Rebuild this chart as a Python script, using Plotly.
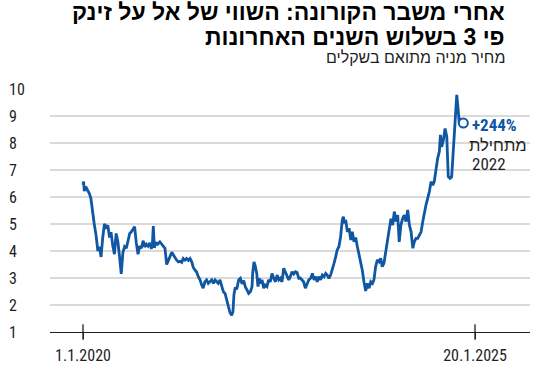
import plotly.graph_objects as go

# ---- data ----
dates = [
    "2020-01-01", "2020-01-04", "2020-01-07", "2020-01-14", "2020-01-22", "2020-01-30", "2020-02-07", "2020-02-15",
    "2020-02-23", "2020-03-03", "2020-03-11", "2020-03-19", "2020-03-26", "2020-04-03", "2020-04-11", "2020-04-19",
    "2020-04-27", "2020-05-05", "2020-05-12", "2020-05-20", "2020-05-28", "2020-06-05", "2020-06-13", "2020-06-21",
    "2020-06-29", "2020-07-07", "2020-07-15", "2020-07-23", "2020-07-31", "2020-08-08", "2020-08-15", "2020-08-23",
    "2020-08-31", "2020-09-08", "2020-09-16", "2020-09-24", "2020-10-02", "2020-10-10", "2020-10-18", "2020-10-25",
    "2020-11-02", "2020-11-10", "2020-11-18", "2020-11-23", "2020-11-27", "2020-12-02", "2020-12-10", "2020-12-18",
    "2020-12-28", "2021-01-06", "2021-01-13", "2021-01-21", "2021-01-29", "2021-02-06", "2021-02-14", "2021-02-22",
    "2021-03-01", "2021-03-09", "2021-03-17", "2021-03-25", "2021-04-02", "2021-04-10", "2021-04-17", "2021-04-25",
    "2021-05-03", "2021-05-11", "2021-05-19", "2021-05-27", "2021-06-03", "2021-06-11", "2021-06-19", "2021-06-27",
    "2021-07-05", "2021-07-13", "2021-07-20", "2021-07-28", "2021-08-05", "2021-08-13", "2021-08-21", "2021-08-29",
    "2021-09-06", "2021-09-14", "2021-09-22", "2021-09-29", "2021-10-07", "2021-10-15", "2021-10-23", "2021-10-31",
    "2021-11-08", "2021-11-15", "2021-11-23", "2021-12-01", "2021-12-07", "2021-12-12", "2021-12-18", "2021-12-25",
    "2022-01-03", "2022-01-11", "2022-01-19", "2022-01-27", "2022-02-03", "2022-02-11", "2022-02-19", "2022-02-27",
    "2022-03-07", "2022-03-10", "2022-03-16", "2022-03-22", "2022-03-29", "2022-04-04", "2022-04-10", "2022-04-17",
    "2022-04-23", "2022-05-01", "2022-05-08", "2022-05-16", "2022-05-24", "2022-06-01", "2022-06-09", "2022-06-17",
    "2022-06-25", "2022-07-03", "2022-07-11", "2022-07-18", "2022-07-26", "2022-08-03", "2022-08-11", "2022-08-19",
    "2022-08-27", "2022-09-03", "2022-09-11", "2022-09-19", "2022-09-27", "2022-10-05", "2022-10-13", "2022-10-20",
    "2022-10-28", "2022-11-05", "2022-11-13", "2022-11-21", "2022-11-29", "2022-12-08", "2022-12-16", "2022-12-24",
    "2023-01-01", "2023-01-08", "2023-01-16", "2023-01-24", "2023-02-01", "2023-02-09", "2023-02-17", "2023-02-24",
    "2023-03-04", "2023-03-12", "2023-03-20", "2023-03-28", "2023-04-05", "2023-04-12", "2023-04-20", "2023-04-28",
    "2023-05-06", "2023-05-11", "2023-05-17", "2023-05-22", "2023-05-30", "2023-06-07", "2023-06-15", "2023-06-22",
    "2023-06-30", "2023-07-08", "2023-07-16", "2023-07-24", "2023-08-01", "2023-08-08", "2023-08-16", "2023-08-24",
    "2023-09-01", "2023-09-09", "2023-09-17", "2023-09-25", "2023-10-02", "2023-10-10", "2023-10-18", "2023-10-26",
    "2023-11-03", "2023-11-10", "2023-11-18", "2023-11-26", "2023-12-04", "2023-12-13", "2023-12-21", "2023-12-29",
    "2024-01-06", "2024-01-14", "2024-01-22", "2024-01-29", "2024-02-06", "2024-02-14", "2024-02-22", "2024-03-01",
    "2024-03-09", "2024-03-17", "2024-03-25", "2024-04-02", "2024-04-09", "2024-04-17", "2024-04-25", "2024-05-03",
    "2024-05-11", "2024-05-19", "2024-05-26", "2024-06-03", "2024-06-11", "2024-06-19", "2024-06-27", "2024-07-05",
    "2024-07-12", "2024-07-20", "2024-07-28", "2024-08-05", "2024-08-10", "2024-08-16", "2024-08-24", "2024-09-01",
    "2024-09-09", "2024-09-16", "2024-09-24", "2024-10-02", "2024-10-10", "2024-10-18", "2024-10-26", "2024-11-02",
    "2024-11-07", "2024-11-14", "2024-11-26",
]
prices = [
    6.45, 6.57, 6.22, 6.38, 6.26, 6.15, 5.95, 5.35,
    5.00, 4.55, 4.00, 4.16, 3.78, 4.50, 5.00, 4.88,
    4.95, 4.50, 4.70, 4.20, 3.88, 4.65, 4.35, 3.80,
    3.15, 3.95, 4.16, 4.10, 4.41, 4.65, 4.70, 4.80,
    4.90, 4.30, 3.88, 4.18, 4.10, 4.38, 4.15, 4.25,
    4.18, 4.30, 4.08, 4.28, 4.92, 4.12, 4.32, 4.25,
    4.34, 4.25, 4.16, 4.10, 3.50, 3.62, 3.80, 3.95,
    3.85, 3.72, 3.66, 3.60, 3.62, 3.58, 3.72, 3.66,
    3.72, 3.65, 3.72, 3.60, 3.40, 3.30, 3.22, 3.05,
    2.93, 2.74, 2.62, 2.86, 2.93, 2.80, 2.88, 2.93,
    2.80, 2.93, 2.86, 2.80, 2.93, 2.74, 2.49, 2.43,
    2.19, 1.94, 1.72, 1.62, 1.75, 2.40, 2.65, 2.58,
    2.93, 2.99, 2.78, 2.90, 2.68, 2.56, 2.43, 2.49,
    2.68, 3.17, 3.60, 3.45, 3.17, 2.68, 2.99, 2.80,
    2.93, 2.62, 2.74, 2.68, 2.93, 2.86, 3.17, 2.99,
    2.86, 3.11, 2.93, 2.99, 2.86, 3.36, 3.23, 3.05,
    2.93, 3.05, 3.23, 3.15, 3.23, 3.20, 2.99, 3.00,
    2.93, 2.86, 2.62, 2.80, 2.93, 2.99, 3.17, 2.93,
    3.05, 2.86, 3.05, 2.93, 3.11, 3.05, 3.17, 3.11,
    2.99, 3.11, 3.30, 3.54, 3.79, 4.04, 4.16, 4.53,
    5.15, 5.27, 5.03, 5.15, 4.71, 4.84, 4.41, 4.71,
    4.34, 4.50, 4.16, 3.85, 3.67, 3.30, 2.86, 2.52,
    2.80, 2.62, 2.86, 2.80, 2.93, 3.42, 3.67, 3.60,
    3.73, 3.42, 3.54, 3.91, 4.28, 4.71, 5.20, 4.96,
    5.46, 5.09, 5.33, 4.34, 4.96, 5.20, 5.33, 5.09,
    5.52, 4.96, 4.71, 4.10, 4.34, 4.47, 4.47, 4.59,
    4.71, 5.09, 5.46, 5.70, 5.95, 6.20, 6.57, 6.44,
    6.57, 7.06, 7.43, 7.68, 8.30, 7.86, 8.10, 8.54,
    8.23, 6.75, 6.69, 6.75, 7.86, 8.60, 9.78, 9.20,
    8.70, 8.85, 8.74,
]
y_ticks = [1, 2, 3, 4, 5, 6, 7, 8, 9, 10]
x_tick_dates = ["2020-01-01", "2025-01-20"]
x_tick_labels = ["1.1.2020", "20.1.2025"]

title_line1 = "אחרי משבר הקורונה: השווי של אל על זינק"
title_line2 = "פי 3 בשלוש השנים האחרונות"
subtitle = "מחיר מניה מתואם בשקלים"
change_label = "+244%"
since_line1 = "מתחילת"
since_line2 = "2022"

BLUE = "#0f56a3"
INK = "#1e1e1e"
NUM_FONT = "Roboto Condensed, Liberation Sans Narrow, Roboto, sans-serif"
HEB_FONT = "Liberation Sans Narrow, Liberation Sans, DejaVu Sans, sans-serif"

fig = go.Figure()
fig.add_trace(go.Scatter(x=dates, y=prices, mode="lines",
                         line=dict(color=BLUE, width=2.8), hoverinfo="skip", showlegend=False))
# end-point marker
fig.add_trace(go.Scatter(x=[dates[-1]], y=[prices[-1]], mode="markers",
                         marker=dict(symbol="circle", size=9, color="white", line=dict(color=BLUE, width=2)),
                         cliponaxis=False, hoverinfo="skip", showlegend=False))
# crossing tick marks on the baseline
fig.add_trace(go.Scatter(x=x_tick_dates, y=[y_ticks[0]] * len(x_tick_dates), mode="markers",
                         marker=dict(symbol="line-ns", size=11, line=dict(color=INK, width=1.3)),
                         cliponaxis=False, hoverinfo="skip", showlegend=False))

# y labels, left-aligned
for v in y_ticks:
    fig.add_annotation(x=-0.0896, xref="paper", y=v, yref="y", text=str(v), showarrow=False,
                       xanchor="left", yanchor="middle", font=dict(family=NUM_FONT, size=16, color=INK))

# end annotation
fig.add_annotation(x=dates[-1], y=prices[-1], text="<b>" + change_label + "</b>", showarrow=False,
                   xanchor="left", yanchor="middle", xshift=7, yshift=-2,
                   font=dict(family=NUM_FONT, size=17, color=BLUE))
fig.add_annotation(x=dates[-1], y=prices[-1], text=since_line1, showarrow=False,
                   xanchor="left", yanchor="middle", xshift=4, yshift=-22,
                   font=dict(family=HEB_FONT, size=16.5, color=INK))
fig.add_annotation(x=dates[-1], y=prices[-1], text=since_line2, showarrow=False,
                   xanchor="left", yanchor="middle", xshift=7, yshift=-41,
                   font=dict(family=NUM_FONT, size=17, color=INK))

# titles
fig.add_annotation(x=0.952, xref="paper", y=1.316, yref="paper", text="<b>" + title_line1 + "</b>",
                   showarrow=False, xanchor="right", yanchor="middle",
                   font=dict(family=HEB_FONT, size=23, color="#000000"))
fig.add_annotation(x=0.952, xref="paper", y=1.216, yref="paper", text="<b>" + title_line2 + "</b>",
                   showarrow=False, xanchor="right", yanchor="middle",
                   font=dict(family=HEB_FONT, size=23, color="#000000"))
fig.add_annotation(x=0.952, xref="paper", y=1.1276, yref="paper", text=subtitle,
                   showarrow=False, xanchor="right", yanchor="middle",
                   font=dict(family=HEB_FONT, size=16, color=INK))

fig.update_xaxes(type="date", range=["2019-07-29 14:00", "2025-10-05 21:00"],
                 tickvals=x_tick_dates, ticktext=x_tick_labels, automargin=False,
                 ticks="outside", ticklen=6, tickwidth=1.3, tickcolor=INK, ticklabelstandoff=3,
                 showline=True, linecolor=INK, linewidth=1.3, showgrid=False, zeroline=False,
                 tickfont=dict(family=NUM_FONT, size=16, color=INK))
fig.update_yaxes(range=[1, 10], tickvals=y_ticks, showticklabels=False, showgrid=True, automargin=False,
                 gridcolor="#dadada", gridwidth=1.6, zeroline=False, showline=False)
fig.update_layout(width=550, height=367, margin=dict(l=50, r=20, t=89, b=35, autoexpand=False),
                  plot_bgcolor="white", paper_bgcolor="white")
fig.write_html("out.html")
